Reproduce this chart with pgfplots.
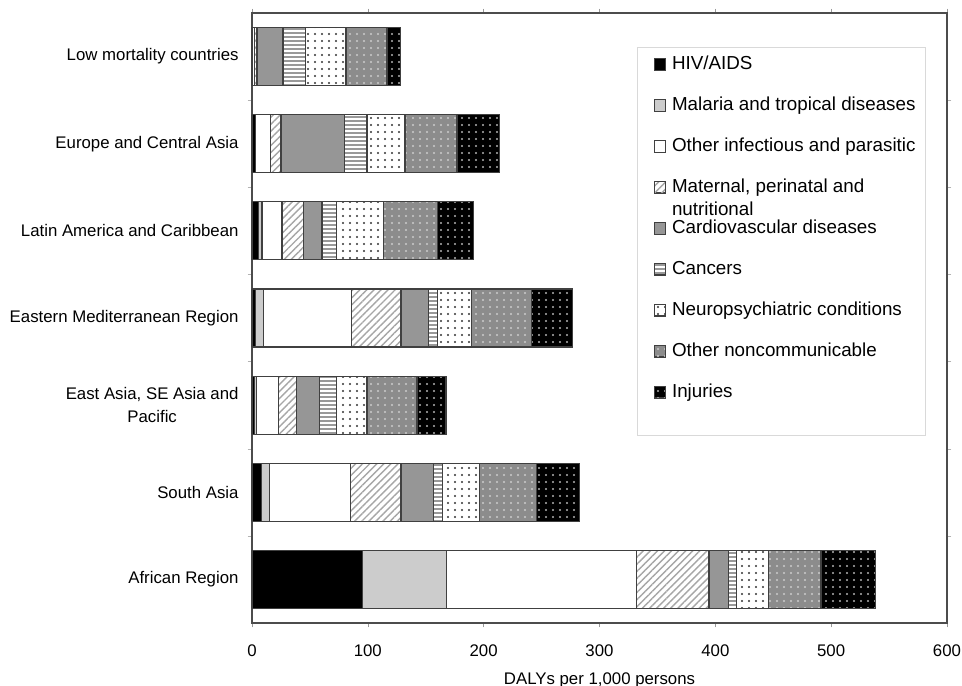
\documentclass[border=0pt]{standalone}
\usepackage{fontspec}
\setmainfont{Liberation Sans}
\usepackage{pgfplots}
\usepackage{pgfplotstable}
\pgfplotsset{compat=1.18}
\usetikzlibrary{patterns.meta}

\pgfplotstableread{
y HIV Mal Oth Mat CVD Can Neu NCD Inj
6 0.3 0 2 2 22.5 19.3 35 35.5 11.5
5 2.8 0 13 9.2 54.9 19.3 32.8 44.9 36.7
4 5.7 2.9 17.3 18.6 15.9 12.3 40.8 46.6 31.1
3 2.8 7.2 75.7 42.9 23.8 7.7 29.7 51.2 35.6
2 2.5 1.2 19.3 15.2 20.1 14.4 26.5 43.2 25.0
1 8.0 7.2 69.6 43.8 28.1 8.1 31.3 49.2 37.1
0 95.4 72.8 163.4 63.0 16.6 7.3 27.2 45.5 47.4
}\datatable

\definecolor{edge}{HTML}{404040}
\definecolor{cvd}{HTML}{969696}
\definecolor{ncd}{HTML}{8C8C8C}
\newcommand\ls{\rule[-2pt]{0pt}{9pt}}
\pgfplotsset{bl/.style={draw=edge, line width=0.6pt,
    legend image code/.code={\path (-4pt,0pt) (7.6pt,0pt);\draw[##1, line width=0.4pt] (0pt,-2.9pt) rectangle (5.8pt,2.9pt);}}}

\begin{document}
\begin{tikzpicture}
\useasboundingbox (-126pt,-31pt) rectangle (355pt,311.5pt);
\begin{axis}[
  at={(0,0)}, anchor=south west,
  scale only axis, width=347.5pt, height=305pt,
  xbar stacked, bar width=29pt,
  xmin=0, xmax=600, ymin=-0.5, ymax=6.5,
  xtick={0,100,...,600},
  ytick={0,...,6},
  yticklabels={African Region, South Asia, {East Asia, SE Asia and\\Pacific}, Eastern Mediterranean Region, Latin America and Caribbean, Europe and Central Asia, Low mortality countries},
  minor ytick={0.5,1.5,...,5.5},
  tick align=outside,
  major tick length=2.2pt, minor tick length=2.2pt,
  major y tick style={draw=none},
  minor y tick style={black!30},
  major x tick style={black!40},
  axis line style={draw=black!70, line width=1pt},
  tick label style={font=\fontsize{8.4}{11.5}\selectfont},
  /pgf/number format/assume math mode=true,
  yticklabel style={align=center, xshift=-1pt},
  xticklabel style={yshift=-5pt},
  xlabel={DALYs per 1,000 persons},
  xlabel style={at={(axis description cs:0.5,0)}, anchor=center, yshift=-28.5pt, font=\fontsize{8.4}{10}\selectfont},
  legend style={at={(0.554,0.944)}, anchor=north west, draw=black!15, line width=0.6pt,
    font=\fontsize{9.4}{11.5}\selectfont, row sep=10pt, inner xsep=4pt, inner ysep=3pt,
    nodes={inner sep=1pt}},
  legend cell align=left,
]
\addplot[bl, fill=black] table[x=HIV,y=y]{\datatable};
\addlegendentry{\ls HIV/AIDS}
\addplot[bl, fill=black!20] table[x=Mal,y=y]{\datatable};
\addlegendentry{\ls Malaria and tropical diseases}
\addplot[bl, fill=white] table[x=Oth,y=y]{\datatable};
\addlegendentry{\ls Other infectious and parasitic}
\addplot[bl, preaction={fill=white}, pattern={Lines[angle=45,distance=2.5pt,line width=0.7pt]}, pattern color=black!35] table[x=Mat,y=y]{\datatable};
\addlegendentry{\ls\smash{\begin{tabular}[t]{@{}l@{}}Maternal, perinatal and\\nutritional\end{tabular}}}
\addplot[bl, fill=cvd] table[x=CVD,y=y]{\datatable};
\addlegendentry{\ls Cardiovascular diseases}
\addplot[bl, preaction={fill=white}, pattern={Lines[angle=0,distance=2pt,line width=0.9pt]}, pattern color=black!40] table[x=Can,y=y]{\datatable};
\addlegendentry{\ls Cancers}
\addplot[bl, preaction={fill=white}, pattern={Dots[radius=0.55pt,distance=3.5pt]}, pattern color=black!80] table[x=Neu,y=y]{\datatable};
\addlegendentry{\ls Neuropsychiatric conditions}
\addplot[bl, preaction={fill=ncd}, pattern={Dots[radius=0.55pt,distance=3.5pt]}, pattern color=black!20] table[x=NCD,y=y]{\datatable};
\addlegendentry{\ls Other noncommunicable}
\addplot[bl, preaction={fill=black}, pattern={Dots[radius=0.55pt,distance=3.5pt]}, pattern color=black!30] table[x=Inj,y=y]{\datatable};
\addlegendentry{\ls Injuries}
\addlegendimage{empty legend}
\addlegendentry{\mbox{}}
\end{axis}
\end{tikzpicture}
\end{document}
